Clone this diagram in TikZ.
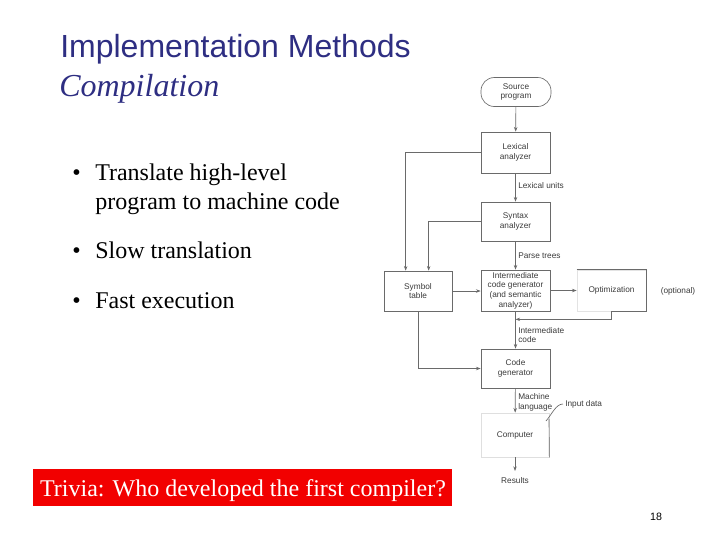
\documentclass[tikz,border=0pt]{standalone}
\usepackage{fontspec}
\setmainfont{Liberation Serif}
\newfontfamily\arialfont{Liberation Sans}
\usetikzlibrary{arrows.meta,calc}
\definecolor{navy}{HTML}{2E2E82}
\definecolor{linegray}{HTML}{6A6A6A}
\definecolor{txtgray}{HTML}{3A3A3A}
\definecolor{trivred}{HTML}{F20000}
\begin{document}
\begin{tikzpicture}[x=0.75pt,y=-0.75pt,
  line/.style={draw=linegray, line width=0.5pt},
  arr/.style={line, -{Stealth[length=3.5pt,width=2.6pt]}},
  dtext/.style={font=\arialfont\fontsize{6.2}{7.2}\selectfont, text=txtgray, align=center, inner sep=0pt},
  ltext/.style={font=\arialfont\fontsize{6.2}{7.2}\selectfont, text=txtgray, align=left, anchor=west, inner sep=0pt},
  box/.style={line, rectangle, minimum width=51.75pt, dtext},
  bullet/.style={font=\fontsize{18}{21}\selectfont, anchor=base west, inner sep=0pt}
]
\useasboundingbox (0,0) rectangle (720,540);

% title
\node[anchor=base west, inner sep=0pt, text=navy, font=\arialfont\fontsize{24}{28}\selectfont] (title) at (60,57) {Implementation Methods};
\node[anchor=base west, inner sep=0pt, text=navy, font=\fontsize{24}{28}\selectfont\itshape] (subtitle) at (59,96) {Compilation};

% bullets
\node[bullet] (b1) at (72,180) {•};
\node[bullet] (t1) at (95,180) {Translate high-level};
\node[bullet] (t1b) at (95,209) {program to machine code};
\node[bullet] (b2) at (72,258) {•};
\node[bullet] (t2) at (95,258) {Slow translation};
\node[bullet] (b3) at (72,308) {•};
\node[bullet] (t3) at (95,308) {Fast execution};

% trivia
\node[fill=trivred, minimum width=314.25pt, minimum height=27.75pt, inner sep=0pt] (triv) at (242.5,487.5) {};
\node[anchor=base, inner sep=0pt, text=white, font=\fontsize{18}{21}\selectfont] (trivtext) at (243,496) {Trivia: Who developed the first compiler?};

% page number
\node[font=\arialfont\fontsize{8}{9}\selectfont, inner sep=0pt] (pg) at (656,517) {18};

% diagram boxes
\node[line, dtext, rounded corners=10pt, minimum width=52.5pt, minimum height=21.75pt] (src) at (516,92) {Source\\program};
\node[box, minimum height=30.75pt] (lex) at (515.5,152.5) {Lexical\\analyzer};
\node[box, minimum height=29.25pt] (syn) at (515.5,221.5) {Syntax\\analyzer};
\node[box, minimum height=30.75pt] (inter) at (515.5,290.5) {Intermediate\\code generator\\(and semantic\\analyzer)};
\node[box, minimum height=29.25pt] (cg) at (515.5,368.5) {Code\\generator};
\node[box, draw=gray!25, minimum width=51pt, minimum height=33pt] (comp) at (515,435) {Computer};
\node[box, minimum width=51pt, minimum height=30pt] (sym) at (418,291) {Symbol\\table};
\node[box, draw=gray!22, minimum height=30.75pt] (opt) at (611.5,290.5) {Optimization};
\draw[line] (opt.north west) -- (opt.north east) -- (opt.south east) -- (opt.south);
\node[dtext] (optional) at (678,291) {(optional)};

% main flow
\draw[arr] (src) -- (lex);
\draw[arr] (lex) -- (syn);
\draw[arr] (syn) -- (inter);
\draw[arr] (inter) -- (cg);
\draw[arr] (cg) -- (comp);
\coordinate (res) at (515,471);
\draw[arr] (comp) -- (res);
\node[dtext] (results) at (515,481) {Results};

% labels
\node[ltext] (lu) at (518,186) {Lexical units};
\node[ltext] (pt) at (518,256) {Parse trees};
\node[ltext] (ic) at (518,335) {Intermediate\\code};
\node[ltext] (ml) at (518,402.5) {Machine\\language};

% symbol table links
\draw[arr] (lex.west) -| ($(sym.north west)+(22,0)$);
\draw[arr] (syn.west) -| ($(sym.north west)+(45,0)$);
\draw[arr] (sym.east) -- (sym.east -| inter.west);
\draw[arr] (sym.south) |- (cg.west);
\draw[arr] (inter.east) -- (inter.east -| opt.west);
\draw[arr] (opt.south) |- ($(inter.south)+(0,8)$);

% input data
\coordinate (inp) at (549,419);
\draw[line] (inp) -- (comp.south east);
\draw[line] (546,421) .. controls (552,414) and (556,404) .. (563,404);
\node[ltext] (input) at (565,404) {Input data};
\end{tikzpicture}
\end{document}
